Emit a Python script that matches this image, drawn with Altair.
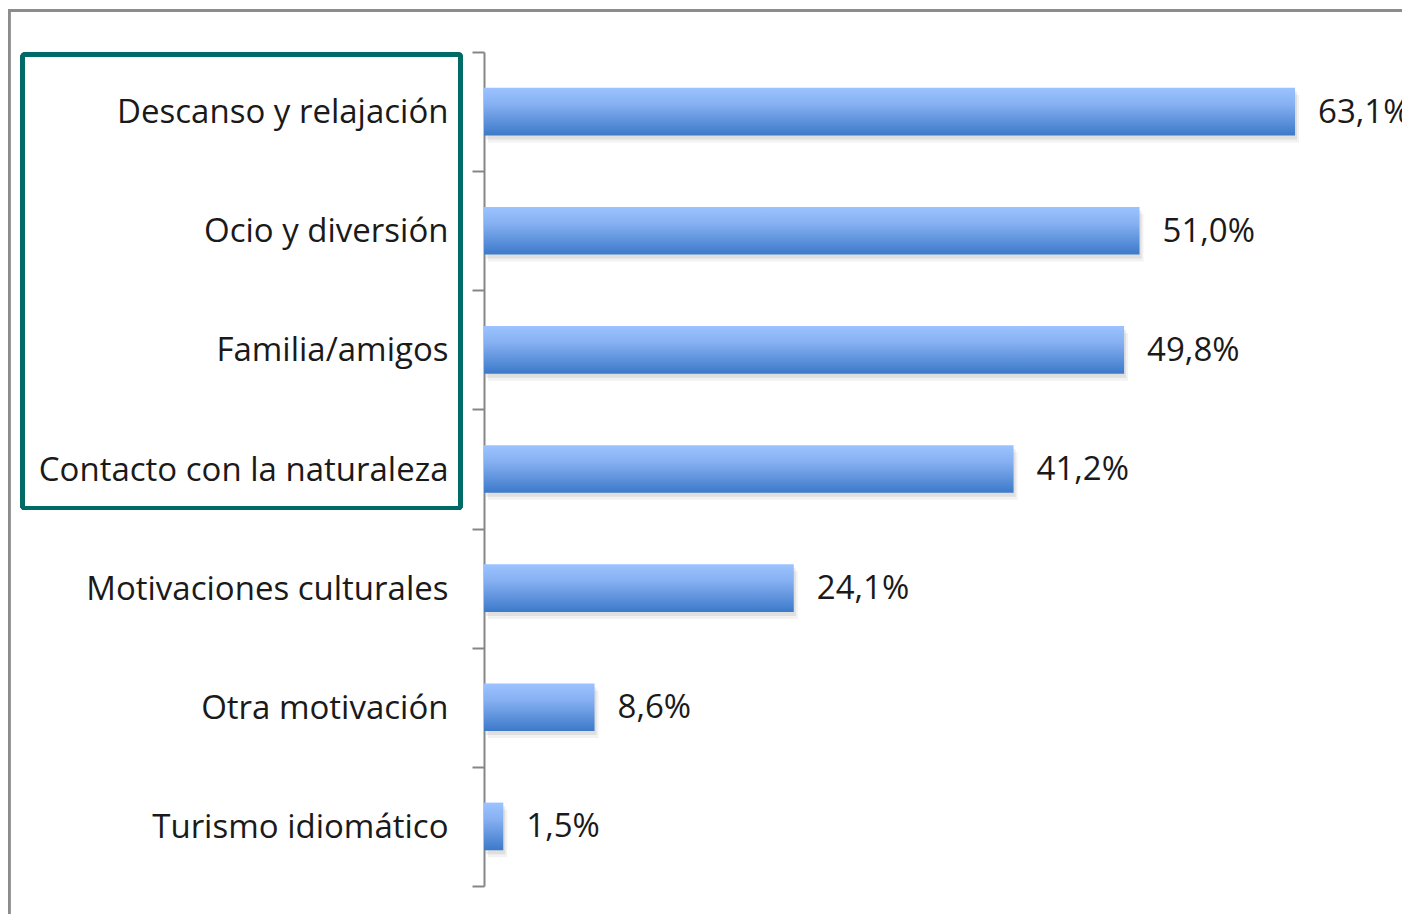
import altair as alt
import pandas as pd

categories = ["Descanso y relajación", "Ocio y diversión", "Familia/amigos",
              "Contacto con la naturaleza", "Motivaciones culturales",
              "Otra motivación", "Turismo idiomático"]
values = [63.1, 51.0, 49.8, 41.2, 24.1, 8.6, 1.5]
labels = [f"{v:.1f}".replace(".", ",") + "%" for v in values]

df = pd.DataFrame({"cat": categories, "val": values, "lab": labels})

FONT = "Open Sans"
FS = 33

xs = alt.Scale(domain=[0, 71.42], nice=False, zero=True)
ys = alt.Scale(paddingInner=0, paddingOuter=0)

base = alt.Chart(df)

y_enc = alt.Y("cat:N", sort=None, scale=ys,
              axis=alt.Axis(title=None, domain=True, domainColor="#868686", domainWidth=2,
                            ticks=True, tickColor="#868686", tickWidth=2, tickSize=12,
                            tickBand="extent", labelFont=FONT, labelFontSize=FS,
                            labelColor="#1a1a1a", labelPadding=24, labelLimit=0, grid=False,
                            labelOffset=1))
x_enc = alt.X("val:Q", scale=xs, axis=None)
BAND = alt.RelativeBandSize(0.4)

shadow1 = base.mark_bar(color="#000000", opacity=0.08, xOffset=2, yOffset=4, height=BAND).encode(
    x=x_enc, y=y_enc)
shadow2 = base.mark_bar(color="#000000", opacity=0.05, xOffset=4, yOffset=7, height=BAND).encode(
    x=x_enc, y=y_enc)

grad = alt.Gradient(gradient="linear", x1=0, y1=0, x2=0, y2=1,
                    stops=[alt.GradientStop(color="#9cc3ff", offset=0),
                           alt.GradientStop(color="#86b0f2", offset=0.35),
                           alt.GradientStop(color="#3c79c9", offset=1)])
bars = base.mark_bar(color=grad, height=BAND).encode(x=x_enc, y=y_enc)

text = base.mark_text(align="left", baseline="middle", dx=23, dy=1, font=FONT, fontSize=FS,
                      color="#1a1a1a").encode(x=x_enc, y=y_enc, text="lab:N")

frame = base.mark_rect(fill=None, stroke="#8c8c8c", strokeWidth=2.5).encode(
    x=alt.value(-475), x2=alt.value(1200), y=alt.value(-41.5), y2=alt.value(1200))

teal = base.mark_rect(fill=None, stroke="#006b66", strokeWidth=4, cornerRadius=2).encode(
    x=alt.value(-461.5), x2=alt.value(-23.5), y=alt.value(2.5), y2=alt.value(456))

chart = alt.layer(frame, teal, shadow2, shadow1, bars, text).properties(
    width=918, height=834,
    autosize="none",
    background="white",
    padding={"left": 476, "top": 44, "right": 0, "bottom": 28},
).configure_view(stroke=None).configure_axis(grid=False)

chart.save("out.html", embed_options={"renderer": "svg", "actions": False})
